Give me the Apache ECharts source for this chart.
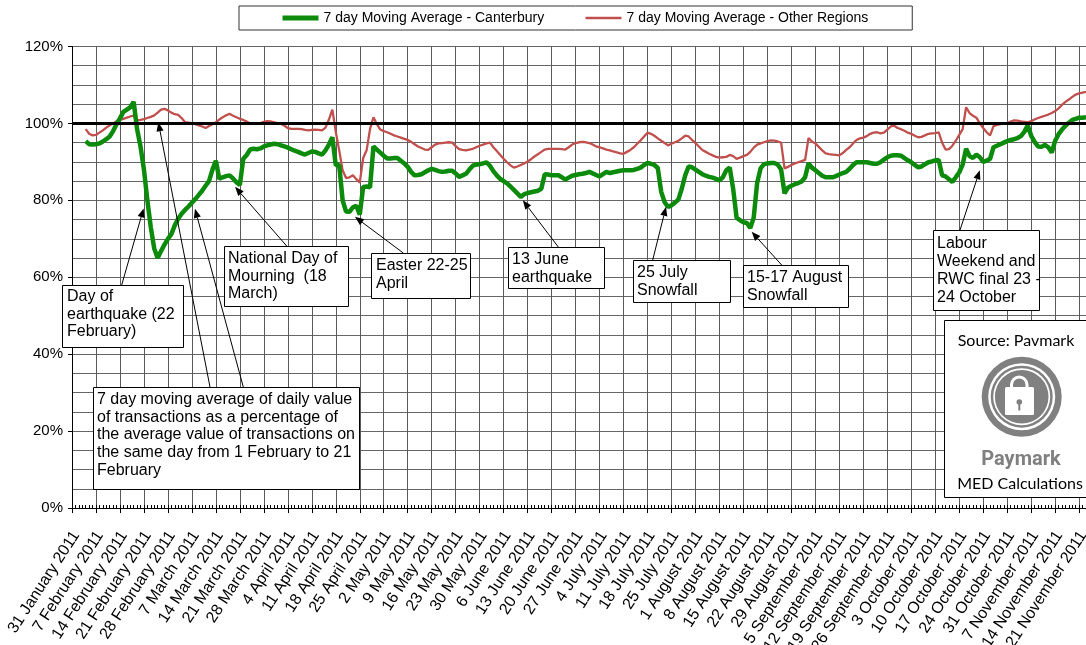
<!DOCTYPE html>
<html><head><meta charset="utf-8">
<script src="https://cdn.jsdelivr.net/npm/echarts@6/dist/echarts.min.js"></script>
<style>html,body{margin:0;padding:0;background:#fff}#c{width:1086px;height:645px}</style>
</head><body><div id="c"></div>
<script>
// ---------- DATA ----------
const tickLabels = ['31 January 2011','7 February 2011','14 February 2011','21 February 2011','28 February 2011','7 March 2011','14 March 2011','21 March 2011','28 March 2011','4 April 2011','11 April 2011','18 April 2011','25 April 2011','2 May 2011','9 May 2011','16 May 2011','23 May 2011','30 May 2011','6 June 2011','13 June 2011','20 June 2011','27 June 2011','4 July 2011','11 July 2011','18 July 2011','25 July 2011','1 August 2011','8 August 2011','15 August 2011','22 August 2011','29 August 2011','5 September 2011','12 September 2011','19 September 2011','26 September 2011','3 October 2011','10 October 2011','17 October 2011','24 October 2011','31 October 2011','7 November 2011','14 November 2011','21 November 2011'];
const seriesNames = ['7 day Moving Average - Canterbury','7 day Moving Average - Other Regions'];
const firstDay = 4;   // days after 31 January 2011 (4 February)
const lastDay = 296;  // 23 November 2011
const canterbury = [
95.4,94.6,94.5,94.6,94.8,95.3,95.9,96.6,98.0,99.8,
101.3,103.0,103.6,104.2,105.6,98.5,94.0,88.0,80.0,73.0,
67.5,65.0,66.8,68.5,70.0,71.2,73.5,75.2,76.5,77.5,
78.4,79.4,80.3,81.4,82.5,83.8,85.0,88.0,90.3,85.6,
86.0,86.3,86.5,85.7,84.7,84.0,90.8,91.8,93.2,93.4,
93.3,93.5,94.0,94.3,94.5,94.7,94.6,94.3,94.0,93.7,
93.3,92.9,92.6,92.2,91.9,92.3,92.7,92.6,92.2,91.9,
93.0,94.5,96.4,89.1,89.2,80.0,77.1,77.0,78.2,78.6,
76.3,83.5,83.6,83.4,94.0,93.2,92.4,91.6,90.9,90.9,
91.0,91.0,90.3,89.6,88.7,87.4,86.5,86.6,86.8,87.3,
87.8,88.2,87.9,87.6,87.4,87.5,87.7,87.7,87.0,86.1,
86.5,86.9,88.0,89.0,89.3,89.4,89.6,89.9,89.0,87.6,
86.5,85.6,85.0,84.4,83.6,82.7,81.8,80.9,81.6,81.9,
82.1,82.3,82.5,83.0,86.8,86.7,86.5,86.5,86.5,86.0,
85.4,85.9,86.4,86.6,86.8,86.9,87.1,87.4,87.0,86.6,
86.2,86.8,87.4,87.1,87.3,87.5,87.7,87.8,87.8,87.8,
87.9,88.2,88.5,89.2,89.7,89.5,89.2,88.4,82.2,79.5,
78.3,78.7,79.4,80.2,83.0,86.5,88.8,88.6,88.0,87.4,
86.8,86.4,86.1,85.9,85.6,85.2,86.0,87.8,88.5,83.0,
75.5,74.8,74.3,74.1,72.8,75.5,84.5,88.3,89.4,89.6,
89.7,89.7,89.3,88.0,81.8,83.3,83.8,84.2,84.5,84.9,
86.0,89.6,88.5,87.8,87.1,86.4,86.0,86.0,86.0,86.3,
86.7,87.1,87.4,88.2,89.2,89.9,89.9,89.9,89.9,89.7,
89.5,89.5,89.9,90.6,91.2,91.6,91.7,91.7,91.6,91.0,
90.4,89.9,89.2,88.6,88.8,89.4,89.9,90.1,90.4,90.5,
86.5,86.2,85.5,84.8,86.0,87.3,89.3,93.4,91.5,91.0,
91.9,91.2,90.0,90.3,90.8,93.8,94.2,94.6,95.0,95.4,
95.7,95.9,96.2,96.7,97.8,99.5,96.8,95.2,94.0,93.9,
94.4,93.8,92.4,95.5,97.2,98.4,99.4,100.2,100.9,101.2,
101.5,101.5,101.6];
const otherRegions = [
98.5,97.3,96.9,97.0,97.6,98.2,98.9,99.5,100.0,100.6,
100.9,101.2,101.5,101.8,102.0,100.8,100.9,101.1,101.4,101.7,
102.1,102.8,103.6,103.8,103.4,102.8,102.4,102.2,101.4,100.3,
100.2,100.1,99.8,99.5,99.2,98.8,99.3,99.8,100.3,101.0,
101.6,102.1,102.5,102.0,101.6,101.2,100.9,100.5,100.0,99.9,
99.9,100.1,100.4,100.6,100.5,100.3,100.1,99.9,99.4,98.8,
98.6,98.6,98.6,98.5,98.3,98.2,98.3,98.4,98.3,98.2,
98.9,101.0,103.6,97.8,93.0,87.8,85.8,86.0,86.5,85.5,
84.6,91.0,93.0,98.5,101.6,99.8,98.4,98.0,97.7,97.3,
96.9,96.6,96.3,96.0,95.7,95.2,94.6,94.0,93.6,93.2,
93.1,93.8,94.5,94.8,94.9,95.0,95.1,95.0,94.1,93.3,
93.1,93.0,93.2,93.4,93.8,94.2,94.5,94.8,95.0,93.8,
92.8,91.8,90.8,89.9,89.1,88.5,88.8,89.2,89.6,90.1,
90.7,91.4,92.0,92.6,93.2,93.4,93.4,93.4,93.4,93.3,
93.2,93.8,94.5,94.9,95.1,95.2,95.1,94.9,94.5,94.0,
93.8,93.5,93.2,93.0,92.7,92.5,92.2,92.1,92.6,93.1,
93.8,94.7,95.6,96.6,97.6,97.3,96.8,96.1,95.5,94.9,
94.3,94.7,95.1,95.5,96.1,96.8,96.6,95.7,94.9,94.0,
93.1,92.6,92.1,91.7,91.3,91.1,91.2,91.3,91.8,91.5,
90.8,91.1,91.5,91.8,92.6,93.7,94.5,94.8,95.1,95.4,
95.6,95.5,95.3,95.0,88.3,88.7,89.2,89.6,89.9,90.2,
90.5,96.2,95.3,94.8,93.9,93.0,92.2,92.0,91.9,91.8,
91.7,92.3,93.1,93.8,94.8,95.7,96.1,96.3,96.7,97.3,
97.6,97.7,97.4,97.6,98.4,99.2,99.4,98.8,98.5,98.1,
97.6,97.3,96.8,96.4,96.5,96.9,97.3,97.4,97.5,97.7,
95.0,93.2,93.3,94.2,95.5,97.0,98.5,104.2,102.7,102.0,
101.5,100.0,98.8,97.7,96.9,99.3,99.6,99.8,99.9,100.1,
100.5,100.8,100.7,100.5,100.4,100.3,100.6,101.0,101.4,101.7,
102.0,102.3,102.7,103.2,103.9,104.8,105.6,106.2,106.9,107.5,
107.8,108.0,108.2];
const baseline = 100;
const notes = [
  {text:['Day of','earthquake (22','February)'], tips:[[20.9,77.9]]},
  {text:['7 day moving average of daily value','of transactions as a percentage of','the average value of transactions on','the same day from 1 February to 21','February'], tips:[[25.2,100.3],[35.9,77.8]]},
  {text:['National Day of','Mourning  (18','March)'], tips:[[47.6,83.5]]},
  {text:['Easter 22-25','April'], tips:[[82.6,75.7]]},
  {text:['13 June','earthquake'], tips:[[131.6,80]]},
  {text:['25 July','Snowfall'], tips:[[173.4,78.3]]},
  {text:['15-17 August','Snowfall'], tips:[[198.4,71.8]]},
  {text:['Labour','Weekend and','RWC final 23 -','24 October'], tips:[[265,87.8]]}
];
const sourceTexts = ['Source: Pavmark','Paymark','MED Calculations'];

// ---------- LAYOUT ----------
const FONT = '"Liberation Sans", Arial, sans-serif';
const noteLayout = [
  {box:[62,285,121,62], textAt:[67,288], lh:17.5, from:[[121.7,285]]},
  {box:[93,387,266,102], textAt:[97,391], lh:17.6, from:[[210,387],[243.3,387]]},
  {box:[224,246,124,60], textAt:[228,250], lh:17.5, from:[[286.7,246]]},
  {box:[371,253,99,45], textAt:[376,257], lh:17.5, from:[[403.3,253]]},
  {box:[508,247,96,41], textAt:[512,251], lh:17.5, from:[[558.3,247]]},
  {box:[633,260,97,42], textAt:[637,264], lh:17.5, from:[[652.7,260]]},
  {box:[743,265,105,42], textAt:[747,269], lh:17.5, from:[[781.7,265]]},
  {box:[933,230,106,80], textAt:[937,234], lh:18.2, from:[[960,230]]}
];
const gridBox = {left:72, right:0, top:46.5, bottom:137, containLabel:false, outerBoundsMode:'none'};
const LABEL_ROT = 57 * Math.PI / 180, LABEL_GAP = 17, LABEL_SHIFT = -4;

const chart = echarts.init(document.getElementById('c'), null, {renderer:'canvas'});
const toPairs = arr => arr.map((v,i)=>[firstDay+i, v]);

chart.setOption({
  animation:false,
  backgroundColor:'#fff',
  legend:{
    data:[
      {name:seriesNames[0], lineStyle:{width:5}},
      {name:seriesNames[1], lineStyle:{width:2.5}}
    ],
    left:239, top:6, padding:[5,44,5,41],
    itemWidth:36, itemHeight:14, itemGap:40,
    itemStyle:{opacity:0},
    borderColor:'#333', borderWidth:1,
    textStyle:{fontSize:14, fontFamily:FONT, color:'#000'}
  },
  grid:[Object.assign({}, gridBox), Object.assign({}, gridBox)],
  xAxis:[{
    type:'value', gridIndex:0, min:0, max:lastDay, interval:7,
    axisLine:{show:true, onZero:false, lineStyle:{color:'#000', width:1}},
    axisTick:{show:true, length:5, lineStyle:{color:'#000'}},
    splitLine:{show:true, lineStyle:{color:'#5a5a5a', width:1}},
    axisLabel:{show:false}
  },{
    type:'value', gridIndex:1, min:0, max:lastDay, interval:1,
    axisLine:{show:false}, axisLabel:{show:false}, splitLine:{show:false},
    axisTick:{show:true, inside:true, length:3, lineStyle:{color:'#000'}}
  }],
  yAxis:[{
    type:'value', gridIndex:0, min:0, max:120, interval:20,
    axisLine:{show:true, lineStyle:{color:'#000'}},
    axisTick:{show:true, length:4, lineStyle:{color:'#000'}},
    axisLabel:{formatter:'{value}%', fontSize:15, fontFamily:FONT, color:'#000', margin:9},
    splitLine:{show:true, lineStyle:{color:'#666', width:1}},
    minorTick:{show:false, splitNumber:4},
    minorSplitLine:{show:true, lineStyle:{color:'#666', width:1}}
  },{
    type:'value', gridIndex:1, min:0, max:120, show:false
  }],
  series:[{
    name:seriesNames[0], type:'line', xAxisIndex:0, yAxisIndex:0,
    data:toPairs(canterbury), symbol:'none', showSymbol:false, z:4,
    lineStyle:{color:'#0b8a0b', width:4.5}, itemStyle:{color:'#0b8a0b'}
  },{
    name:seriesNames[1], type:'line', xAxisIndex:0, yAxisIndex:0,
    data:toPairs(otherRegions), symbol:'none', showSymbol:false, z:3,
    lineStyle:{color:'#c0504d', width:2.3}, itemStyle:{color:'#c0504d'},
    markLine:{silent:true, symbol:'none', label:{show:false},
      lineStyle:{color:'#000', width:3, type:'solid'}, data:[{yAxis:baseline}]}
  }]
});

const g = [];
// ---------- ROTATED DATE TICK LABELS (placed on the x axis ticks) ----------
tickLabels.forEach((lab, i) => {
  const p = chart.convertToPixel({gridIndex:0}, [i*7, 0]);
  g.push({type:'text', z:50, x:p[0] - 0.5, y:p[1] + LABEL_GAP, rotation:LABEL_ROT,
    style:{text:lab, x:LABEL_SHIFT, y:0, align:'right', verticalAlign:'top', fontSize:16, fontFamily:FONT, fill:'#000'}});
});

// ---------- ANNOTATIONS ----------
function arrow(x1,y1,x2,y2){
  const dx=x2-x1, dy=y2-y1, L=Math.hypot(dx,dy), ux=dx/L, uy=dy/L;
  const hl=9, hw=3.6, bx=x2-ux*hl, by=y2-uy*hl;
  return [
    {type:'line', z:100, shape:{x1:x1, y1:y1, x2:bx, y2:by}, style:{stroke:'#000', lineWidth:1}},
    {type:'polygon', z:100, shape:{points:[[x2,y2],[bx-uy*hw, by+ux*hw],[bx+uy*hw, by-ux*hw]]}, style:{fill:'#000'}}
  ];
}
notes.forEach((n, i) => {
  const L = noteLayout[i];
  g.push({type:'rect', z:99, shape:{x:L.box[0]+0.5, y:L.box[1]+0.5, width:L.box[2], height:L.box[3]},
    style:{fill:'#fff', stroke:'#000', lineWidth:1}});
  g.push({type:'text', z:101, style:{text:n.text.join('\n'), x:L.textAt[0], y:L.textAt[1],
    fontSize:16, fontFamily:FONT, fill:'#000', lineHeight:L.lh, verticalAlign:'top', align:'left'}});
  n.tips.forEach((t, j) => {
    const p = chart.convertToPixel({gridIndex:0}, t);
    const f = L.from[j];
    arrow(f[0], f[1], p[0], p[1]).forEach(e => g.push(e));
  });
});
// source box with logo
const GRAY = '#808080', cx = 1021.7, cy = 396.7;
g.push({type:'rect', z:99, shape:{x:944.5, y:320.5, width:150, height:177}, style:{fill:'#fff', stroke:'#000', lineWidth:1}});
g.push({type:'text', z:101, style:{text:sourceTexts[0], x:1016, y:341, align:'center', verticalAlign:'middle', fontSize:16, fontFamily:'Lato, "Noto Sans", sans-serif', fill:'#000'}});
[[40,GRAY],[33.5,'#fff'],[31,GRAY],[28.5,'#fff'],[26.8,GRAY]].forEach(c => {
  g.push({type:'circle', z:101, shape:{cx:cx, cy:cy, r:c[0]}, style:{fill:c[1]}});
});
g.push({type:'rect', z:102, shape:{x:1011.5, y:377, width:15.5, height:24, r:[8,8,0,0]}, style:{fill:'none', stroke:'#fff', lineWidth:3}});
g.push({type:'rect', z:103, shape:{x:1005, y:387, width:29, height:28, r:1.5}, style:{fill:'#fff'}});
g.push({type:'circle', z:104, shape:{cx:1019.3, cy:402, r:2.8}, style:{fill:GRAY}});
g.push({type:'rect', z:104, shape:{x:1018.3, y:402, width:2, height:8.5}, style:{fill:GRAY}});
g.push({type:'text', z:101, style:{text:sourceTexts[1], x:1021, y:460, align:'center', verticalAlign:'middle', fontSize:20, fontWeight:'bold', fontFamily:'Roboto, "Noto Sans", sans-serif', fill:GRAY}});
g.push({type:'text', z:101, style:{text:sourceTexts[2], x:1020, y:483.5, align:'center', verticalAlign:'middle', fontSize:16, fontFamily:'Lato, "Noto Sans", sans-serif', fill:'#000'}});
chart.setOption({graphic:g});
</script>
</body></html>
